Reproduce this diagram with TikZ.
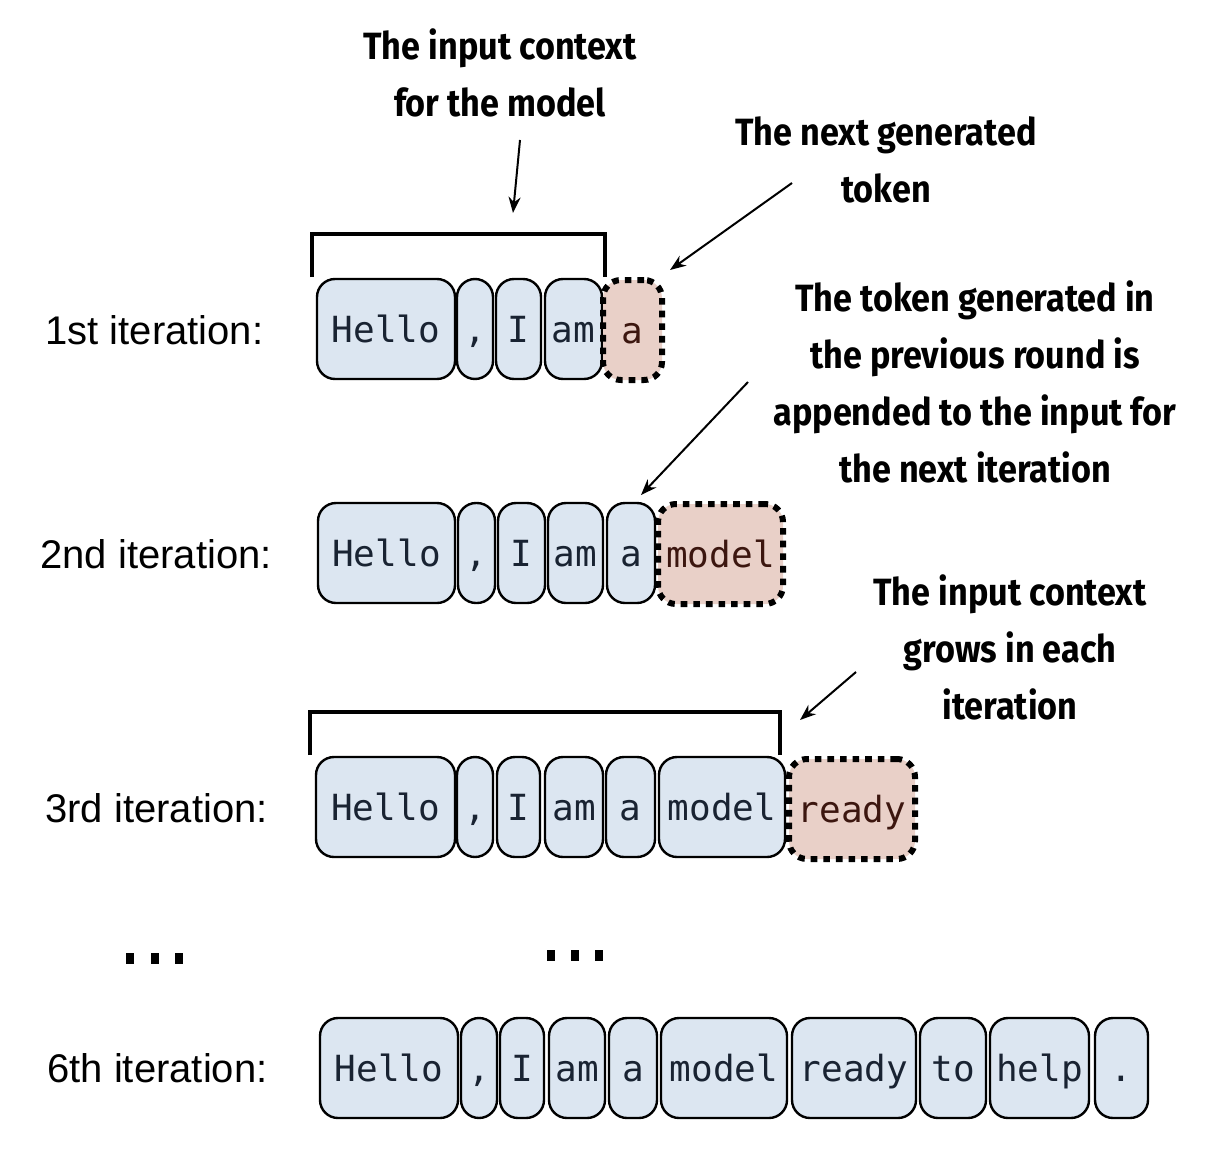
\documentclass[tikz,border=0pt]{standalone}
\usepackage{fontspec}
\setmainfont{Liberation Sans}
\newfontfamily\tokfont{DejaVu Sans Mono}
\newfontfamily\annfont[FakeStretch=0.9]{Fira Sans}
\usetikzlibrary{arrows.meta}
\definecolor{tokblue}{RGB}{220,230,241}
\definecolor{tokred}{RGB}{233,208,200}
\definecolor{toktext}{RGB}{25,35,50}
\definecolor{gentext}{RGB}{60,22,15}
\newcommand\tok[6]{\pgfmathsetmacro\tokw{(#4-#3)*0.5}\pgfmathsetmacro\tokx{(#3+#4)/2}\node[#2, minimum width=\tokw pt] (#1) at (\tokx,#5) {#6};}
\begin{document}
\begin{tikzpicture}[x=0.5pt,y=-0.5pt,
  tok/.style={draw=black, line width=1.2pt, rounded corners=9pt, fill=tokblue, minimum height=50pt, inner sep=0pt, font=\tokfont\fontsize{18}{20}\selectfont, text=toktext, text height=13pt, text depth=0pt},
  gen/.style={tok, fill=tokred, text=gentext, line width=3pt, dash pattern=on 3.3pt off 3pt},
  iter/.style={anchor=base west, inner sep=0pt, font=\fontsize{20}{24}\selectfont},
  ann/.style={align=center, inner sep=0pt, font=\annfont\bfseries\fontsize{19}{28.5}\selectfont},
  arr/.style={line width=1pt, -{Stealth[length=8pt,width=6pt]}},
  brk/.style={line width=1.6pt}]
\fill[white] (0,0) rectangle (1230,1156);
\useasboundingbox (0,0) rectangle (1230,1156);

% annotations
\node[ann] (n1) at (500,73) {The input context\\for the model};
\node[ann] (n2) at (886,160) {The next generated\\token};
\node[ann] (n3) at (975,382) {The token generated in\\the previous round is\\appended to the input for\\the next iteration};
\node[ann] (n4) at (1010,647) {The input context\\grows in each\\iteration};

% iteration labels
\node[iter] (l1) at (45,344) {1st iteration:};
\node[iter] (l2) at (40,568) {2nd iteration:};
\node[iter] (l3) at (45,822) {3rd iteration:};
\node[iter] (l4) at (47,1082) {6th iteration:};

% row 1
\tok{r1a}{tok}{317}{455}{329}{Hello}
\tok{r1b}{tok}{457}{493}{329}{,}
\tok{r1c}{tok}{496}{541}{329}{I}
\tok{r1d}{tok}{545}{602}{329}{am}
\tok{r1e}{gen}{603}{662}{330}{a}

% row 2
\tok{r2a}{tok}{318}{455}{553}{Hello}
\tok{r2b}{tok}{458}{495}{553}{,}
\tok{r2c}{tok}{498}{545}{553}{I}
\tok{r2d}{tok}{548}{603}{553}{am}
\tok{r2e}{tok}{607}{655}{553}{a}
\tok{r2f}{gen}{658}{783}{554}{model}

% row 3
\tok{r3a}{tok}{316}{455}{807}{Hello}
\tok{r3b}{tok}{457}{493}{807}{,}
\tok{r3c}{tok}{497}{540}{807}{I}
\tok{r3d}{tok}{545}{603}{807}{am}
\tok{r3e}{tok}{606}{655}{807}{a}
\tok{r3f}{tok}{659}{785}{807}{model}
\tok{r3g}{gen}{789}{915}{809}{ready}

% row 6
\tok{r4a}{tok}{320}{458}{1068}{Hello}
\tok{r4b}{tok}{461}{497}{1068}{,}
\tok{r4c}{tok}{500}{544}{1068}{I}
\tok{r4d}{tok}{549}{605}{1068}{am}
\tok{r4e}{tok}{609}{657}{1068}{a}
\tok{r4f}{tok}{661}{787}{1068}{model}
\tok{r4g}{tok}{792}{916}{1068}{ready}
\tok{r4h}{tok}{920}{986}{1068}{to}
\tok{r4i}{tok}{990}{1089}{1068}{help}
\tok{r4j}{tok}{1095}{1148}{1068}{.}

% brackets
\draw[brk] (312,277) -- (312,234) -- (605,234) -- (605,277);
\draw[brk] (310,755) -- (310,712) -- (780,712) -- (780,755);

% arrows
\coordinate (t1) at (520,140); \coordinate (h1) at (513,213);
\coordinate (t2) at (792,183); \coordinate (h2) at (670,270);
\coordinate (t3) at (748,382); \coordinate (h3) at (641,495);
\coordinate (t4) at (856,672); \coordinate (h4) at (800,720);
\draw[arr] (t1) -- (h1);
\draw[arr] (t2) -- (h2);
\draw[arr] (t3) -- (h3);
\draw[arr] (t4) -- (h4);

% ellipses
\foreach \x in {130,155,179} \fill (\x-4,953) rectangle (\x+4,964);
\foreach \x in {551,575,599} \fill (\x-4,950) rectangle (\x+4,961);
\end{tikzpicture}
\end{document}
